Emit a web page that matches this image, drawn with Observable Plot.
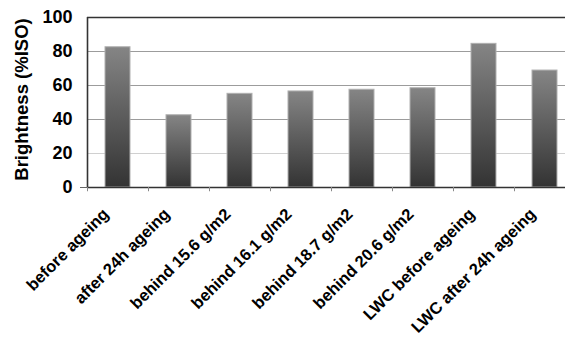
<!DOCTYPE html>
<html>
<head>
<meta charset="utf-8">
<script src="https://cdn.jsdelivr.net/npm/d3@7"></script>
<script src="https://cdn.jsdelivr.net/npm/@observablehq/plot@0.6"></script>
<style>
  html, body { margin: 0; padding: 0; background: white; }
</style>
</head>
<body>
<div id="chart"></div>
<script>
const categories = ["before ageing", "after 24h ageing", "behind 15.6 g/m2", "behind 16.1 g/m2", "behind 18.7 g/m2", "behind 20.6 g/m2", "LWC before ageing", "LWC after 24h ageing"];
const brightness = [82.5, 42.5, 55.1, 56.5, 57.5, 58.4, 84.5, 68.8];
const yTicks = [0, 20, 40, 60, 80, 100];
const gridValues = [40, 60, 80];
const lightGrid = [20];
const yTitle = "Brightness (%ISO)";

const data = categories.map((c, i) => ({category: c, brightness: brightness[i]}));

const chart = Plot.plot({
  width: 565,
  height: 340,
  marginLeft: 87,
  marginTop: 17,
  marginBottom: 153,
  marginRight: -10,
  style: {fontFamily: "'Liberation Sans', Arial, sans-serif", fontWeight: "bold", background: "white", color: "black"},
  x: {domain: categories, paddingInner: 0.59, paddingOuter: 0.295},
  y: {domain: [0, 100]},
  marks: [
    Plot.ruleY(lightGrid, {stroke: "#d0d0d0"}),
    Plot.ruleY(gridValues, {stroke: "#9c9c9c"}),
    Plot.barY(data, {x: "category", y: "brightness", fill: "url(#barGrad)", stroke: "#b0b0b0", strokeWidth: 1}),
    Plot.ruleY([100], {stroke: "#333", strokeWidth: 1.6}),
    Plot.ruleY([0], {stroke: "#333", strokeWidth: 1.6}),
    Plot.ruleX([categories[0]], {dx: -30.5, stroke: "#333", strokeWidth: 1.6}),
    Plot.ruleX(categories, {x: d => d, y1: 0, y2: -2.5, dx: -30.5, stroke: "#888"}),
    Plot.axisY({ticks: [0], tickSize: 7, text: null, label: null, stroke: "#666"}),
    Plot.axisY({ticks: yTicks, tickSize: 0, tickPadding: 15, fontSize: 18, label: null}),
    Plot.axisX({tickSize: 0, tickPadding: 8, tickRotate: -45, fontSize: 16.5, dx: -12, dy: 16, label: null}),
    Plot.text([yTitle], {frameAnchor: "left", rotate: -90, dx: -65, dy: -3, fontSize: 18.5, fontWeight: "bold", textAnchor: "middle", lineAnchor: "middle"})
  ]
});

const ns = "http://www.w3.org/2000/svg";
const defs = document.createElementNS(ns, "defs");
const grad = document.createElementNS(ns, "linearGradient");
grad.setAttribute("id", "barGrad");
grad.setAttribute("x1", "0"); grad.setAttribute("y1", "0");
grad.setAttribute("x2", "0"); grad.setAttribute("y2", "1");
[["0%", "#858585"], ["100%", "#333333"]].forEach(([o, c]) => {
  const s = document.createElementNS(ns, "stop");
  s.setAttribute("offset", o);
  s.setAttribute("stop-color", c);
  grad.appendChild(s);
});
defs.appendChild(grad);
chart.insertBefore(defs, chart.firstChild);

document.getElementById("chart").appendChild(chart);
</script>
</body>
</html>
